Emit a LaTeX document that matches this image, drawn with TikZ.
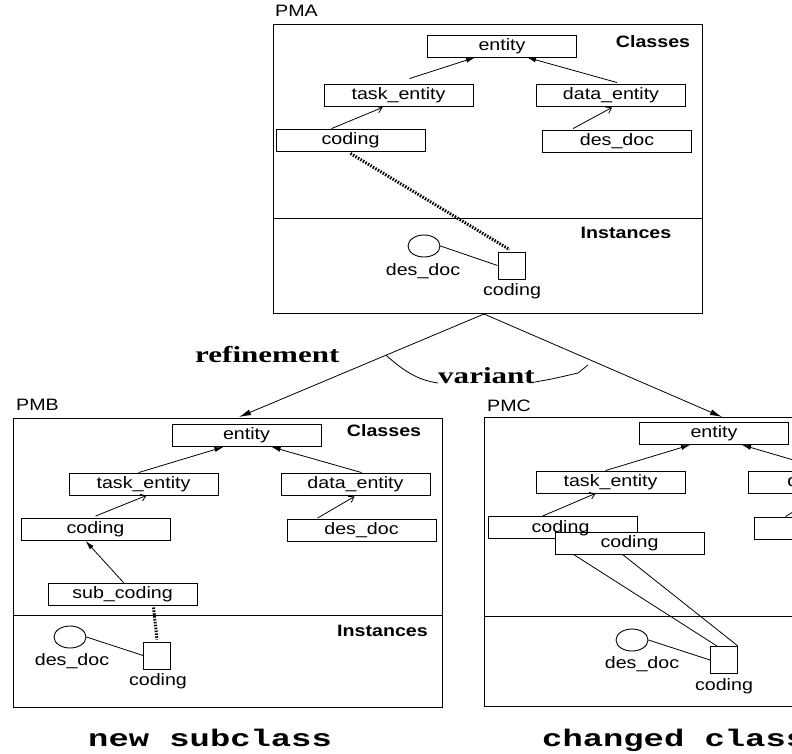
\documentclass[tikz,border=0pt]{standalone}
\usepackage{fontspec}
\usetikzlibrary{shapes.geometric,arrows.meta,calc}
\newfontfamily\figsans[FakeStretch=1.19]{Liberation Sans}
\newfontfamily\figserif[FakeStretch=1.35]{Liberation Serif}
\newfontfamily\figmono[FakeStretch=1.41]{Liberation Mono}

\tikzset{
  frame/.style={draw, line width=1pt, minimum width=429, minimum height=289, inner sep=0, anchor=north west},
  divider/.style={line width=1pt},
  cls/.style={draw, fill=white, line width=0.9pt, minimum width=149, minimum height=22, inner sep=0,
              text height=12, text depth=3.5, font=\figsans\fontsize{16.5}{18}\selectfont},
  txt/.style={inner sep=0, anchor=base, font=\figsans\fontsize{16.5}{18}\selectfont},
  head/.style={inner sep=0, anchor=base, font=\figsans\bfseries\fontsize{16.5}{18}\selectfont},
  obj/.style={draw, ellipse, minimum width=32, minimum height=22, inner sep=0, line width=0.9pt},
  inst/.style={draw, fill=white, minimum width=27, minimum height=27, inner sep=0, line width=0.9pt},
  isa/.style={line width=0.8pt, -{Latex[length=9pt,width=5pt]}},
  spec/.style={line width=0.8pt, -{Straight Barb[length=5pt,width=7pt]}},
  link/.style={line width=0.8pt},
  inof/.style={line width=3pt, dash pattern=on 1.5pt off 1.4pt},
  derive/.style={line width=0.8pt, -{Latex[length=12pt,width=6pt]}},
  rel/.style={inner sep=0, anchor=base west, font=\figserif\bfseries\fontsize{23}{26}\selectfont},
  caption/.style={inner sep=0, anchor=base west, font=\figmono\bfseries\fontsize{24}{26}\selectfont},
}

\begin{document}
\begin{tikzpicture}[x=1pt, y=-1pt]
\path[use as bounding box] (0,0) rectangle (792,753);
\clip (0,0) rectangle (792,753);

% ---------------- PMA ----------------
\node[txt, anchor=base west] (pmaname) at (275,16) {PMA};
\node[frame] (pma) at (273,24) {};
\draw[divider] ($(pma.north west)+(0,194)$) -- ($(pma.north east)+(0,194)$);
\node[head] (pmacls) at (653,47) {Classes};
\node[head] (pmainst) at (626,238) {Instances};

\node[cls] (aent) at (502,46) {entity};
\node[cls] (atask) at (398.5,95) {task\_entity};
\node[cls] (adata) at (611,95) {data\_entity};
\node[cls] (acod) at (350.5,140) {coding};
\node[cls] (adoc) at (617,141) {des\_doc};

\draw[isa] ($(atask.north west)+(86,-5)$) -- ($(aent.south west)+(48,0)$);
\draw[isa] ($(adata.north west)+(81,-1)$) -- ($(aent.south west)+(100,0)$);
\draw[spec] ($(acod.north west)+(56,0)$) -- ($(atask.south west)+(59,1)$);
\draw[spec] ($(adoc.north west)+(31,-1)$) -- ($(adata.south west)+(76,1)$);

\node[obj] (aobj) at (424,246) {};
\node[txt] (aobjname) at (423,275) {des\_doc};
\node[inst] (ainst) at (511.5,265.5) {};
\node[txt] (ainstname) at (512,295) {coding};
\draw[link] (aobj.east) -- (ainst.west);
\draw[inof] ($(acod.south)+(0,2)$) -- ($(ainst.north)+(-2,-2)$);

% ---------------- PMB ----------------
\node[txt, anchor=base west] (pmbname) at (16,410) {PMB};
\node[frame] (pmb) at (13,418) {};
\draw[divider] ($(pmb.north west)+(0,197)$) -- ($(pmb.north east)+(0,197)$);
\node[head] (pmbcls) at (384,436) {Classes};
\node[head] (pmbinst) at (382.5,636) {Instances};

\node[cls] (bent) at (246.5,435.5) {entity};
\node[cls] (btask) at (143.5,484) {task\_entity};
\node[cls] (bdata) at (355.5,484) {data\_entity};
\node[cls] (bcod) at (95.5,529.5) {coding};
\node[cls] (bdoc) at (361.5,530.5) {des\_doc};
\node[cls] (bsub) at (122.5,594) {sub\_coding};

\draw[isa] ($(btask.north west)+(70,0)$) -- ($(bent.south west)+(52,0)$);
\draw[isa] ($(bdata.north west)+(81,0)$) -- ($(bent.south west)+(100,0)$);
\draw[spec] ($(bcod.north west)+(75,-2)$) -- ($(btask.south west)+(78,0)$);
\draw[spec] ($(bdoc.north west)+(31,-1)$) -- ($(bdata.south west)+(74,1)$);
\draw[isa] ($(bsub.north west)+(76,0)$) -- ($(bcod.south west)+(65,0)$);

\node[obj] (bobj) at (70,637) {};
\node[txt] (bobjname) at (72,665) {des\_doc};
\node[inst] (binst) at (157,655.5) {};
\node[txt] (binstname) at (158,685) {coding};
\draw[link] (bobj.east) -- (binst.west);
\draw[inof] ($(bsub.south west)+(106,2)$) -- ($(binst.north)+(0,-2)$);

% ---------------- PMC ----------------
\node[txt, anchor=base west] (pmcname) at (487,411) {PMC};
\node[frame] (pmc) at (484,417) {};
\draw[divider] ($(pmc.north west)+(0,199)$) -- ($(pmc.north east)+(0,199)$);

\node[cls] (cent) at (714,433.5) {entity};
\node[cls] (ctask) at (610.5,482) {task\_entity};
\node[cls] (cdata) at (822.5,482) {\hspace*{26pt}data\_entity};
\node[cls] (cdoc) at (828.5,528) {des\_doc};
\node[cls] (cold) at (562.5,527.5) {};
\node[cls] (cnew) at (629.5,543) {coding};
\node[txt, anchor=center] (coldname) at ($(cold.center)+(-2,0.5)$) {\vphantom{Ag}coding};

\draw[isa] ($(ctask.north west)+(70,0)$) -- ($(cent.south west)+(51,0)$);
\draw[isa] ($(cdata.north west)+(82,0)$) -- ($(cent.south west)+(103,0)$);
\draw[spec] ($(cold.north west)+(55,0)$) -- ($(ctask.south west)+(60,0)$);
\draw[spec] ($(cdoc.north west)+(32,0)$) -- ($(cdata.south west)+(75,0)$);

\node[obj] (cobj) at (632,640) {};
\node[txt] (cobjname) at (642,668) {des\_doc};
\node[inst] (cinst) at (724,660) {};
\node[txt] (cinstname) at (724,690) {coding};
\draw[link] (cobj.east) -- (cinst.west);
\draw[link] ($(cnew.south west)+(19,0)$) -- ($(cinst.north west)+(7,0)$);
\draw[link] ($(cnew.south west)+(68,0)$) -- (cinst.north east);

% ---------------- derivations ----------------
\coordinate (apex) at ($(pma.south west)+(211,0)$);
\draw[derive] (apex) -- ($(pmb.north west)+(226,-1)$);
\draw[derive] (apex) -- ($(pmc.north west)+(238,0)$);
\node[rel] (refine) at (195,362) {refinement};
\node[rel] (variant) at (438,383) {variant};
\coordinate (varl) at ($(apex)!0.4!($(pmb.north west)+(226,-1)$)$);
\coordinate (varr) at (588,365);
\draw[link] (varl) .. controls (405,372) and (418,380) .. (variant.base west);
\draw[link] ($(variant.base east)+(0,-1)$) .. controls (552,379) .. (578,373) -- (varr);

% ---------------- captions ----------------
\node[caption] (capb) at (88,746) {new subclass};
\node[caption] (capc) at (542,746) {changed class};
\end{tikzpicture}
\end{document}
